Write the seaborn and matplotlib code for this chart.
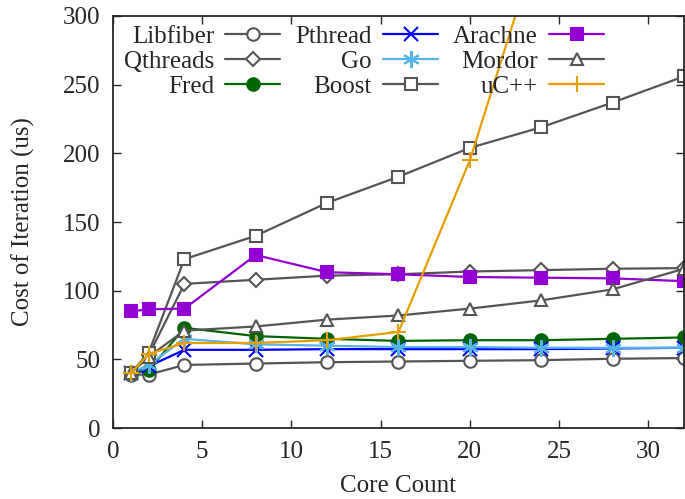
import numpy as np
import matplotlib.pyplot as plt
import seaborn as sns
import pandas as pd

cores = [1, 2, 4, 8, 12, 16, 20, 24, 28, 32]

libfiber = [39, 39, 46, 47, 48, 48.5, 49, 49.5, 50.5, 51]
qthreads = [40, 53, 105, 108, 111, 112, 114, 115, 116, 116.5]
fred = [40, 42, 73, 67, 65, 63.5, 64, 64, 65, 66]
pthread = [40, 45, 57, 57, 57.5, 57.5, 57.5, 57.5, 58, 58.5]
go = [40, 46, 65, 61, 60, 59, 59, 58.5, 58.5, 58.5]
boost = [40, 55, 123, 140, 164, 183, 204, 219, 237, 256]
arachne = [85, 86.5, 87, 126, 113.5, 112, 110, 109.5, 109, 107]
mordor = [40, 52, 71, 74, 79, 82, 87, 93, 101, 116]
ucpp = [40, 54, 62, 62, 64, 70, 195, 360, 410, 460]

series_names = ["Libfiber", "Qthreads", "Fred", "Pthread", "Go",
                "Boost", "Arachne", "Mordor", "uC++"]
series_values = [libfiber, qthreads, fred, pthread, go,
                 boost, arachne, mordor, ucpp]

grey = "#555555"
style = {
    "Libfiber": dict(color=grey, marker="o", mfc="white"),
    "Qthreads": dict(color=grey, marker="D", mfc="white", ms=7.5),
    "Fred": dict(color="#006400", marker="o", mfc="#006400"),
    "Pthread": dict(color="#0000ff", marker="x", mfc="#0000ff", ms=10),
    "Go": dict(color="#56b4e9", marker=(6, 2, 0), mfc="#56b4e9", ms=12),
    "Boost": dict(color=grey, marker="s", mfc="white"),
    "Arachne": dict(color="#9400d3", marker="s", mfc="#9400d3"),
    "Mordor": dict(color=grey, marker="^", mfc="white"),
    "uC++": dict(color="#e69f00", marker="+", mfc="#e69f00", ms=11),
}


def main():
    sns.set_style("ticks")
    plt.rcParams['font.family'] = ['Liberation Serif', 'DejaVu Serif']
    plt.rcParams['font.size'] = 18

    rows = []
    for name, vals in zip(series_names, series_values):
        for c, v in zip(cores, vals):
            rows.append({"cores": c, "cost": v, "lib": name})
    df = pd.DataFrame(rows)

    fig = plt.figure(figsize=(6.85, 4.99), dpi=100)
    ax = fig.add_axes([0.165, 0.142, 0.8335, 0.826])

    for name in series_names:
        st = style[name]
        sub = df[df["lib"] == name]
        sns.lineplot(data=sub, x="cores", y="cost", ax=ax, label=name,
                     color=st["color"], marker=st["marker"],
                     markerfacecolor=st["mfc"], markeredgecolor=st["color"],
                     markersize=st.get("ms", 9), markeredgewidth=1.5,
                     linewidth=1.6, clip_on=True)

    ax.set_xlim(0, 32)
    ax.set_ylim(0, 300)
    ax.set_xticks(np.arange(0, 31, 5))
    ax.set_yticks(np.arange(0, 301, 50))
    ax.tick_params(direction="in", top=True, right=True, length=6,
                   width=1, labelsize=18, pad=9)
    for sp in ax.spines.values():
        sp.set_linewidth(1.3)
        sp.set_visible(True)

    ax.set_xlabel("Core Count", fontsize=18, labelpad=9)
    ax.set_ylabel("Cost of Iteration (us)", fontsize=18, labelpad=20)

    ax.legend(loc="upper left", bbox_to_anchor=(0.006, 0.995), ncol=3,
              frameon=False, markerfirst=False, fontsize=18,
              handlelength=2.2, handletextpad=0.45, columnspacing=0.6,
              labelspacing=0.1, borderaxespad=0.1, borderpad=0.2)

    fig.savefig("out.png", dpi=100)


if __name__ == "__main__":
    main()
